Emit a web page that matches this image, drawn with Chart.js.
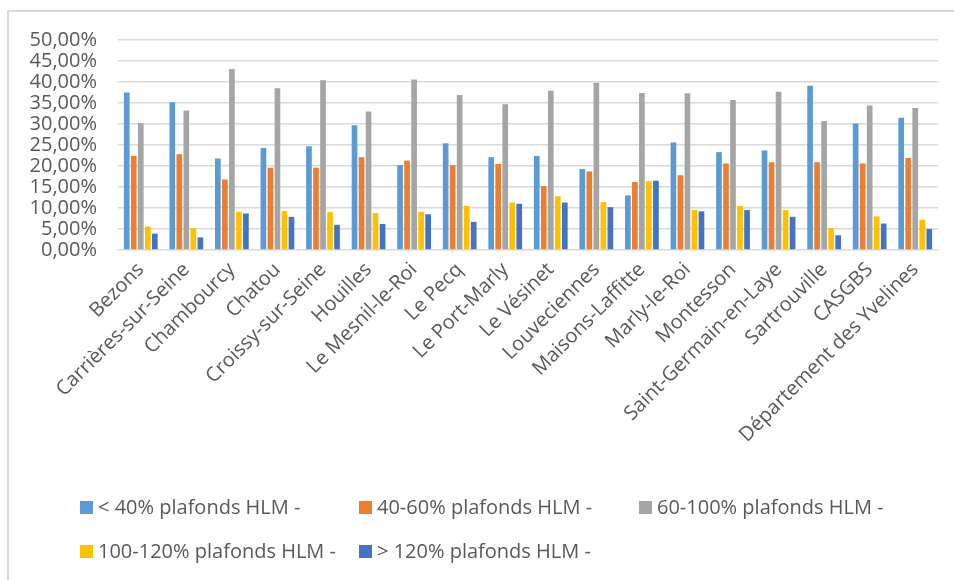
<!DOCTYPE html>
<html lang="fr">
<head>
<meta charset="utf-8">
<title>Répartition des ménages selon les plafonds HLM</title>
<script src="https://cdn.jsdelivr.net/npm/chart.js@4.4.1/dist/chart.umd.min.js"></script>
<style>
  html, body { margin: 0; padding: 0; background: #ffffff; }
  #wrap { position: relative; width: 954px; height: 580px; overflow: hidden; font-family: "Open Sans", sans-serif; }
  #frame { position: absolute; left: 7px; top: 10px; right: -10px; bottom: -10px;
           border-left: 2px solid #D9D9D9; border-top: 2px solid #D9D9D9; }
  #chart { position: absolute; left: 0; top: 0; }
  .legend-item { position: absolute; display: flex; align-items: center; white-space: nowrap;
                 font-size: 20px; color: #595959; line-height: 24px; }
  .legend-box { width: 13px; height: 13px; margin-right: 5px; flex: none; }
</style>
</head>
<body>
<div id="wrap">
  <div id="frame"></div>
  <canvas id="chart" width="954" height="580"></canvas>
  <div id="legend"></div>
</div>
<script>
// Communes of the agglomeration, plus the two reference areas
const communes = [
  "Bezons", "Carrières-sur-Seine", "Chambourcy", "Chatou", "Croissy-sur-Seine",
  "Houilles", "Le Mesnil-le-Roi", "Le Pecq", "Le Port-Marly", "Le Vésinet",
  "Louveciennes", "Maisons-Laffitte", "Marly-le-Roi", "Montesson",
  "Saint-Germain-en-Laye", "Sartrouville", "CASGBS", "Département des Yvelines"
];

// Share of households (%) by income bracket relative to HLM ceilings
const sousQuarante   = [37.5, 35.2, 21.8, 24.3, 24.7, 29.7, 20.2, 25.4, 22.1, 22.4, 19.3, 13.0, 25.6, 23.3, 23.7, 39.1, 30.1, 31.5];
const quaranteSoixante = [22.4, 22.8, 16.8, 19.6, 19.6, 22.1, 21.3, 20.2, 20.5, 15.2, 18.7, 16.2, 17.8, 20.6, 20.9, 20.9, 20.6, 21.9];
const soixanteCent   = [30.2, 33.2, 43.1, 38.5, 40.4, 33.0, 40.6, 36.9, 34.7, 37.9, 39.8, 37.4, 37.3, 35.7, 37.7, 30.7, 34.4, 33.8];
const centCentVingt  = [5.6, 5.2, 9.1, 9.3, 9.0, 8.8, 9.1, 10.5, 11.3, 12.8, 11.4, 16.4, 9.5, 10.5, 9.5, 5.2, 8.0, 7.2];
const plusCentVingt  = [3.9, 3.0, 8.7, 7.9, 6.0, 6.2, 8.5, 6.7, 11.0, 11.3, 10.2, 16.5, 9.2, 9.5, 7.9, 3.5, 6.3, 5.0];

// Y axis tick values (percent)
const yTicks = [0, 5, 10, 15, 20, 25, 30, 35, 40, 45, 50];

const seriesNames = [
  "< 40% plafonds HLM -", "40-60% plafonds HLM -", "60-100% plafonds HLM -",
  "100-120% plafonds HLM -", "> 120% plafonds HLM -"
];
const seriesColors = ["#5B9BD5", "#ED7D31", "#A5A5A5", "#FFC000", "#4472C4"];
const seriesValues = [sousQuarante, quaranteSoixante, soixanteCent, centCentVingt, plusCentVingt];

const axisFont = { family: "'Open Sans', sans-serif", size: 20 };
const textColor = "#595959";

const datasets = seriesValues.map((vals, i) => ({
  label: seriesNames[i],
  data: vals,
  backgroundColor: seriesColors[i],
  borderWidth: 0,
  categoryPercentage: 0.77,
  barPercentage: 0.81
}));

new Chart(document.getElementById("chart"), {
  type: "bar",
  data: { labels: communes, datasets },
  options: {
    responsive: false,
    animation: false,
    layout: { padding: { left: 20, right: 16, top: 40, bottom: 130 } },
    plugins: {
      legend: { display: false },
      tooltip: { enabled: false }
    },
    scales: {
      x: {
        grid: { display: false, drawTicks: false },
        border: { display: false },
        ticks: {
          color: textColor,
          font: axisFont,
          maxRotation: 45,
          minRotation: 45,
          autoSkip: false,
          padding: 8
        },
        afterFit: (scale) => { scale.height = 200; }
      },
      y: {
        min: yTicks[0],
        max: yTicks[yTicks.length - 1],
        grid: { color: "#D9D9D9", lineWidth: 1.5, drawTicks: false },
        border: { display: false },
        afterBuildTicks: (scale) => { scale.ticks = yTicks.map((v) => ({ value: v })); },
        ticks: {
          autoSkip: false,
          color: textColor,
          font: axisFont,
          padding: 21,
          callback: (v) => v.toFixed(2).replace(".", ",") + "%"
        },
        afterFit: (scale) => { scale.width = 98; }
      }
    }
  }
});

// Legend laid out on a three-column grid below the chart
const legendPos = [
  [80, 495], [359, 495], [639, 495],
  [80, 539], [359, 539]
];
const legend = document.getElementById("legend");
seriesNames.forEach((name, i) => {
  const item = document.createElement("div");
  item.className = "legend-item";
  item.style.left = legendPos[i][0] + "px";
  item.style.top = legendPos[i][1] + "px";
  const box = document.createElement("span");
  box.className = "legend-box";
  box.style.background = seriesColors[i];
  const txt = document.createElement("span");
  txt.textContent = name;
  item.appendChild(box);
  item.appendChild(txt);
  legend.appendChild(item);
});
</script>
</body>
</html>
